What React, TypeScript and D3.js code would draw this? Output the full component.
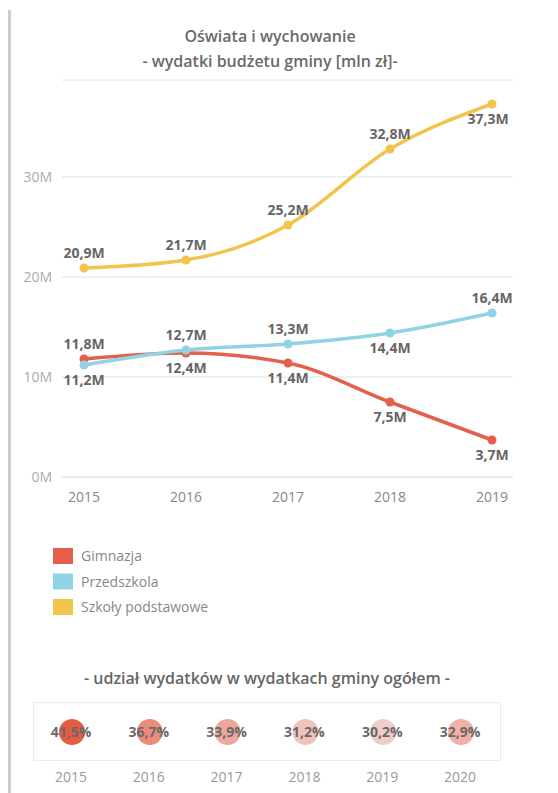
import { useEffect, useRef } from 'react';
import * as d3 from 'd3';

const years = ['2015', '2016', '2017', '2018', '2019'];
const gimnazja = [11.8, 12.4, 11.4, 7.5, 3.7];
const przedszkola = [11.2, 12.7, 13.3, 14.4, 16.4];
const szkoly = [20.9, 21.7, 25.2, 32.8, 37.3];
const yTicks = [0, 10, 20, 30];

const shareYears = ['2015', '2016', '2017', '2018', '2019', '2020'];
const shareValues = [41.5, 36.7, 33.9, 31.2, 30.2, 32.9];

// label placement per point: -1 above, 1 below
const series = [
  { name: 'Gimnazja', color: '#E4604A', values: gimnazja, pos: [-1, 1, 1, 1, 1] },
  { name: 'Przedszkola', color: '#8FD3E4', values: przedszkola, pos: [1, -1, -1, 1, -1] },
  { name: 'Szkoły podstawowe', color: '#F2C44E', values: szkoly, pos: [-1, -1, -1, -1, 1] },
];

const FONT = '"Open Sans", sans-serif';
const fmt = (v: number) => v.toFixed(1).replace('.', ',') + 'M';

export default function App() {
  const ref = useRef<SVGSVGElement>(null);

  useEffect(() => {
    const svg = d3.select(ref.current);
    svg.selectAll('*').remove();

    // left accent bar
    svg.append('rect').attr('x', 8).attr('y', 10).attr('width', 3).attr('height', 783).attr('fill', '#cfcfc8');

    // title
    const title = svg.append('text').attr('text-anchor', 'middle').attr('fill', '#6a6a6a')
      .attr('font-family', FONT).attr('font-size', 16).attr('font-weight', 600);
    title.append('tspan').attr('x', 270).attr('y', 42).text('Oświata i wychowanie');
    title.append('tspan').attr('x', 270).attr('y', 67).text('- wydatki budżetu gminy [mln zł]-');

    const x = d3.scalePoint<string>().domain(years).range([84, 492]);
    const y = d3.scaleLinear().domain([0, 39.7]).range([477, 80]);
    const left = 62, right = 513;

    const g = svg.append('g');
    g.append('line').attr('x1', left).attr('x2', right).attr('y1', y(39.7)).attr('y2', y(39.7))
      .attr('stroke', '#e2e2e2');
    g.selectAll('.grid').data(yTicks).enter().append('line')
      .attr('x1', left).attr('x2', right)
      .attr('y1', (d) => y(d)).attr('y2', (d) => y(d))
      .attr('stroke', (d) => (d === 0 ? '#d8d8d8' : '#e2e2e2'));
    g.selectAll('.ytick').data(yTicks).enter().append('text')
      .attr('x', 52).attr('y', (d) => y(d) + 5).attr('text-anchor', 'end')
      .attr('font-family', FONT).attr('font-size', 14).attr('fill', '#aaa')
      .text((d) => `${d}M`);
    g.selectAll('.xtick').data(years).enter().append('text')
      .attr('x', (d) => x(d)!).attr('y', 502).attr('text-anchor', 'middle')
      .attr('font-family', FONT).attr('font-size', 14).attr('fill', '#888')
      .text((d) => d);

    const line = d3.line<number>().x((_, i) => x(years[i])!).y((d) => y(d)).curve(d3.curveMonotoneX);

    series.forEach((s) => {
      g.append('path').attr('d', line(s.values)!).attr('fill', 'none')
        .attr('stroke', s.color).attr('stroke-width', 3.5).attr('stroke-linecap', 'round');
      g.selectAll(null).data(s.values).enter().append('circle')
        .attr('cx', (_, i) => x(years[i])!).attr('cy', (d) => y(d)).attr('r', 4.5)
        .attr('fill', s.color);
    });
    series.forEach((s) => {
      g.selectAll(null).data(s.values).enter().append('text')
        .attr('x', (_, i) => x(years[i])! + (i === 4 && s.pos[i] === 1 && s.name !== 'Gimnazja' ? -4 : 0))
        .attr('y', (d, i) => y(d) + (s.pos[i] < 0 ? -10 : 20))
        .attr('text-anchor', 'middle').attr('font-family', FONT).attr('font-size', 14)
        .attr('font-weight', 700).attr('fill', '#666')
        .text((d) => fmt(d));
    });

    // legend
    const lg = svg.append('g');
    series.forEach((s, i) => {
      const cy = 556 + i * 25.5;
      lg.append('rect').attr('x', 53).attr('y', cy - 8).attr('width', 20).attr('height', 16).attr('fill', s.color);
      lg.append('text').attr('x', 81).attr('y', cy + 5).attr('font-family', FONT).attr('font-size', 14)
        .attr('fill', '#888').text(s.name);
    });

    // share section
    svg.append('text').attr('x', 267).attr('y', 684).attr('text-anchor', 'middle')
      .attr('font-family', FONT).attr('font-size', 16).attr('font-weight', 600).attr('fill', '#666')
      .text('- udział wydatków w wydatkach gminy ogółem -');

    svg.append('rect').attr('x', 33.5).attr('y', 702.5).attr('width', 467).attr('height', 58)
      .attr('fill', 'none').attr('stroke', '#ececec');

    const sx = d3.scalePoint<string>().domain(shareYears).range([71, 460]);
    const color = d3.scaleLinear<string>().domain([30.2, 41.5]).range(['#F2CCC8', '#E65C40']);

    const sg = svg.append('g');
    sg.selectAll('circle').data(shareValues).enter().append('circle')
      .attr('cx', (_, i) => sx(shareYears[i])! + 1).attr('cy', 732).attr('r', 13)
      .attr('fill', (d) => color(d));
    sg.selectAll('.lbl').data(shareValues).enter().append('text')
      .attr('x', (_, i) => sx(shareYears[i])!).attr('y', 737).attr('text-anchor', 'middle')
      .attr('font-family', FONT).attr('font-size', 14).attr('font-weight', 700).attr('fill', '#6a6a6a')
      .text((d) => d.toFixed(1).replace('.', ',') + '%');
    sg.selectAll('.yr').data(shareYears).enter().append('text')
      .attr('x', (d) => sx(d)!).attr('y', 782).attr('text-anchor', 'middle')
      .attr('font-family', FONT).attr('font-size', 14).attr('fill', '#999')
      .text((d) => d);
  }, []);

  return (
    <div style={{ position: 'fixed', left: 0, top: 0 }}>
      <svg ref={ref} width={558} height={793} style={{ display: 'block', background: '#fff' }} />
    </div>
  );
}
